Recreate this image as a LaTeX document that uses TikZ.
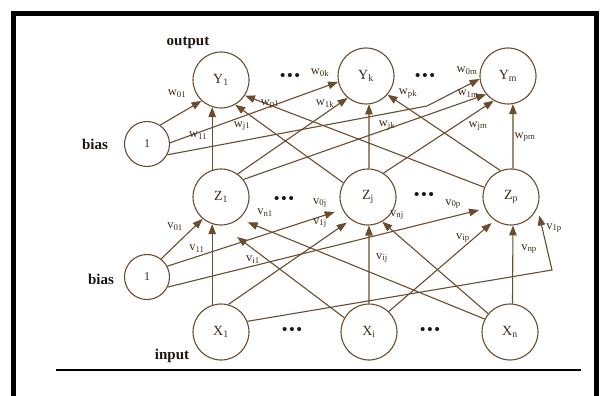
\documentclass[tikz,border=0pt]{standalone}
\usepackage{fontspec}
\setmainfont{Liberation Serif}
\usetikzlibrary{arrows.meta}
\definecolor{ln}{HTML}{6B4C2E}
\definecolor{tx}{HTML}{3E2A18}
\definecolor{ttlc}{HTML}{1E1610}
\begin{document}
\begin{tikzpicture}[x=1pt,y=-1pt,
  neuron/.style={circle,draw=ln,line width=1.1pt,minimum size=56pt,inner sep=0pt,font=\fontsize{14}{14}\selectfont,text=tx},
  biasn/.style={circle,draw=ln,line width=1.1pt,minimum size=45pt,inner sep=0pt,font=\fontsize{12}{12}\selectfont,text=tx},
  conn/.style={draw=ln,line width=1.1pt,-{Triangle[length=10pt,width=7.5pt]}},
  wl/.style={font=\fontsize{12.5}{12.5}\selectfont,text=tx,inner sep=0pt},
  ttl/.style={font=\fontsize{15}{15}\selectfont\bfseries,text=ttlc,inner sep=0pt},
  dotsn/.style={font=\fontsize{15}{15}\selectfont\bfseries,text=ttlc,inner sep=0pt}]
\useasboundingbox (0,0) rectangle (606,396);
% frame
\fill[black] (11,11) rectangle (599,16);
\fill[black] (11,11) rectangle (16,396);
\fill[black] (594,11) rectangle (599,396);
\fill[black] (56,369) rectangle (581,371);
% nodes
\node[neuron] (Y1) at (221,80) {Y\textsubscript{1}};
\node[neuron] (Yk) at (366,76) {Y\textsubscript{k}};
\node[neuron] (Ym) at (508,76) {Y\textsubscript{m}};
\node[neuron] (Z1) at (221,197) {Z\textsubscript{1}};
\node[neuron] (Zj) at (368,197) {Z\textsubscript{j}};
\node[neuron] (Zp) at (511,197) {Z\textsubscript{p}};
\node[neuron] (X1) at (221,332) {X\textsubscript{1}};
\node[neuron] (Xi) at (369,332) {X\textsubscript{i}};
\node[neuron] (Xn) at (510,332) {X\textsubscript{n}};
\node[biasn] (B1) at (147,144) {1};
\node[biasn] (B2) at (147,277) {1};
% titles
\node[ttl] (tout) at (188,43) {output};
\node[ttl] (tb1) at (95,144) {bias};
\node[ttl] (tb2) at (101,279) {bias};
\node[ttl] (tin) at (172,356) {input};
% dots
\node[dotsn] (d1) at (290,77) {•\hspace{2pt}•\hspace{2pt}•};
\node[dotsn] (d2) at (425,77) {•\hspace{2pt}•\hspace{2pt}•};
\node[dotsn] (d3) at (284,200) {•\hspace{2pt}•\hspace{2pt}•};
\node[dotsn] (d4) at (424,196) {•\hspace{2pt}•\hspace{2pt}•};
\node[dotsn] (d5) at (292,331) {•\hspace{2pt}•\hspace{2pt}•};
\node[dotsn] (d6) at (430,331) {•\hspace{2pt}•\hspace{2pt}•};
% bend points
\coordinate (bm) at (427,106);
\coordinate (bp) at (552,270);
% hidden -> output
\draw[conn] (B1.55) -- (Y1.227);
\draw[conn] (B1.3) -- (Yk.192);
\draw[conn] (B1.332) -- (bm) -- (Ym.186);
\draw[conn] (Z1.108) -- (Y1.252);
\draw[conn] (Z1.54) -- (Yk.230);
\draw[conn] (Z1.38) -- (Ym.220);
\draw[conn] (Zj.150) -- (Y1.300);
\draw[conn] (Zj.88) -- (Yk.276);
\draw[conn] (Zj.57) -- (Ym.240);
\draw[conn] (Zp.160) -- (Y1.327);
\draw[conn] (Zp.112) -- (Yk.319);
\draw[conn] (Zp.86) -- (Ym.280);
% input -> hidden
\draw[conn] (B2.52) -- (Z1.230);
\draw[conn] (X1.108) -- (Z1.252);
\draw[conn,shorten >=19pt] (Xi.150) -- (Z1.272);
\draw[conn,shorten >=9pt] (Xn.153) -- (Z1.310);
\draw[conn,shorten >=8pt] (B2.28) -- (Zj.206);
\draw[conn,shorten >=5pt] (X1.75) -- (Zj.233);
\draw[conn] (Xi.90) -- (Zj.272);
\draw[conn] (Xn.140) -- (Zj.300);
\draw[conn,shorten >=6pt] (B2.334) -- (Zp.204);
\draw[conn,shorten >=8pt] (X1.22) -- (bp) -- (Zp.338);
\draw[conn,shorten >=4pt] (Xi.46) -- (Zp.235);
\draw[conn] (Xn.85) -- (Zp.274);
% weight labels
\node[wl] at (177,94) {w\textsubscript{01}};
\node[wl] at (320,73) {w\textsubscript{0k}};
\node[wl] at (270,104) {w\textsubscript{p1}};
\node[wl] at (325,104) {w\textsubscript{1k}};
\node[wl] at (242,126) {w\textsubscript{j1}};
\node[wl] at (198,136) {w\textsubscript{11}};
\node[wl] at (467,71) {w\textsubscript{0m}};
\node[wl] at (408,94) {w\textsubscript{pk}};
\node[wl] at (468,94) {w\textsubscript{1m}};
\node[wl] at (387,126) {w\textsubscript{jk}};
\node[wl] at (478,126) {w\textsubscript{jm}};
\node[wl] at (525,137) {w\textsubscript{pm}};
\node[wl] at (175,227) {v\textsubscript{01}};
\node[wl] at (197,249) {v\textsubscript{11}};
\node[wl] at (265,213) {v\textsubscript{n1}};
\node[wl] at (320,203) {v\textsubscript{0j}};
\node[wl] at (320,223) {v\textsubscript{1j}};
\node[wl] at (253,260) {v\textsubscript{i1}};
\node[wl] at (453,204) {v\textsubscript{0p}};
\node[wl] at (397,215) {v\textsubscript{nj}};
\node[wl] at (463,238) {v\textsubscript{ip}};
\node[wl] at (554,228) {v\textsubscript{1p}};
\node[wl] at (529,249) {v\textsubscript{np}};
\node[wl] at (382,258) {v\textsubscript{ij}};
\end{tikzpicture}
\end{document}
